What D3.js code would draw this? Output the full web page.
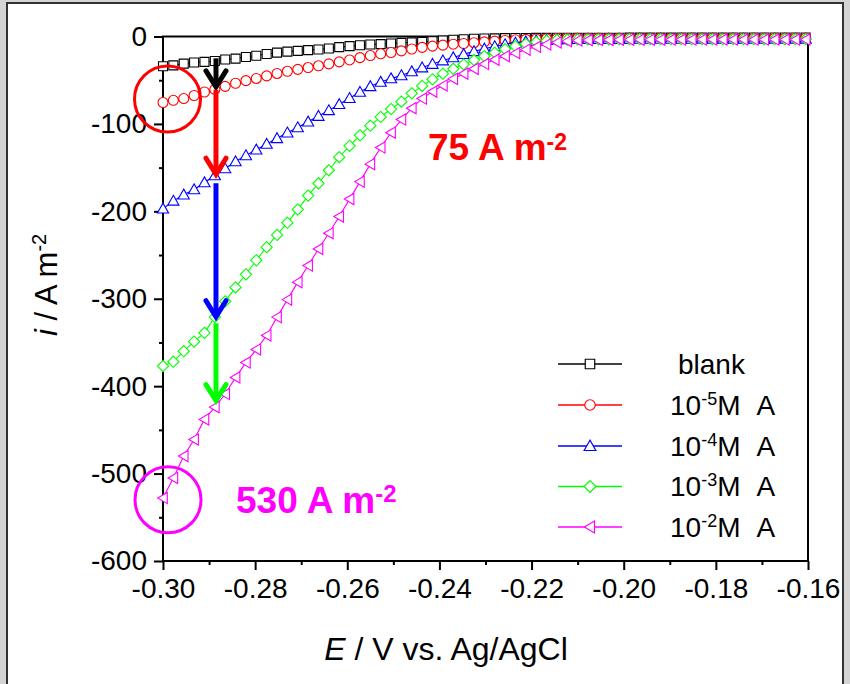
<!DOCTYPE html>
<html><head><meta charset="utf-8">
<script src="https://cdn.jsdelivr.net/npm/d3@7"></script>
<style>html,body{margin:0;padding:0;background:#d4d4d4;}svg{display:block;}</style>
</head><body>
<script>
// Potential (V vs Ag/AgCl)
const E = [-0.3,-0.29775,-0.2955,-0.29325,-0.291,-0.28875,-0.2865,-0.28425,-0.282,-0.27975,-0.2775,-0.27525,-0.273,-0.27075,-0.2685,-0.26625,-0.264,-0.26175,-0.2595,-0.25725,-0.255,-0.25275,-0.2505,-0.24825,-0.246,-0.24375,-0.2415,-0.23925,-0.237,-0.23475,-0.2325,-0.23025,-0.228,-0.22575,-0.2235,-0.22125,-0.219,-0.21675,-0.2145,-0.21225,-0.21,-0.20775,-0.2055,-0.20325,-0.201,-0.19875,-0.1965,-0.19425,-0.192,-0.18975,-0.1875,-0.18525,-0.183,-0.18075,-0.1785,-0.17625,-0.174,-0.17175,-0.1695,-0.16725,-0.165,-0.16275,-0.1605];
// Current density (A m^-2)
const blank = [-34,-33,-31,-29.7,-29,-28,-26.3,-25.3,-23.5,-22,-20,-18.5,-17.3,-16.4,-15.6,-14.8,-13.8,-12.2,-11,-10,-9.2,-8.7,-8,-7.3,-6.7,-6.1,-5.4,-4.5,-3.7,-3.1,-2.6,-2.3,-2.1,-1.9,-1.8,-1.7,-1.6,-1.6,-1.5,-1.5,-1.5,-1.4,-1.4,-1.4,-1.4,-1.3,-1.3,-1.3,-1.3,-1.3,-1.2,-1.2,-1.2,-1.2,-1.2,-1.2,-1.1,-1.1,-1.1,-1.1,-1.1,-1.1,-1.1];
const a1e5 = [-75.5,-73,-71,-67.5,-63.5,-60.5,-57,-53.5,-50.5,-48,-45,-42.3,-39.8,-37.6,-35.5,-33.5,-31.3,-29,-26.8,-24.2,-21.8,-19.8,-18.3,-16.5,-14.3,-12.4,-11,-9.9,-8.8,-8,-7.1,-6.2,-5.3,-4.5,-3.8,-3.3,-2.9,-2.6,-2.4,-2.3,-2.2,-2.2,-2.1,-2.1,-2.1,-2,-2,-2,-2,-2,-2,-2,-2,-2,-2,-2,-2,-2,-2,-2,-2,-2,-2];
const a1e4 = [-197,-188,-181,-175,-167,-159,-151,-143,-136,-129.5,-123,-116.5,-110,-104,-97.5,-91,-84.5,-77.5,-70.5,-63.5,-57,-52,-48,-44.5,-40,-35.5,-31.5,-27.5,-24,-20.3,-17,-14,-11.3,-9,-7.2,-5.8,-4.8,-4.1,-3.6,-3.3,-3.1,-3,-3,-2.9,-2.9,-2.9,-2.8,-2.8,-2.8,-2.8,-2.8,-2.8,-2.7,-2.7,-2.7,-2.7,-2.7,-2.7,-2.7,-2.7,-2.7,-2.7,-2.7];
const a1e3 = [-377,-372,-360,-349,-339,-321,-303,-287,-272,-256,-241,-227,-213,-198,-182,-168,-153,-138,-125,-113,-102,-92,-83,-74.5,-65,-56.5,-49,-42.5,-37,-32,-27,-22.5,-18.5,-14.5,-11.2,-8.5,-6.3,-4.8,-4,-3.6,-3.4,-3.3,-3.2,-3.2,-3.1,-3.1,-3.1,-3,-3,-3,-3,-3,-3,-3,-3,-3,-3,-3,-3,-3,-3,-3,-3];
const a1e2 = [-528,-505,-480,-461,-438,-424,-409,-390,-373,-358,-342,-321,-301,-281,-262,-243,-225,-206,-186,-166,-146,-127,-110,-95,-82,-71,-63,-56,-48.5,-42.5,-37,-31.5,-26.5,-22.5,-19,-15,-11.8,-9,-6.8,-5.3,-4.5,-4.1,-3.9,-3.8,-3.7,-3.7,-3.6,-3.6,-3.6,-3.5,-3.5,-3.5,-3.5,-3.5,-3.5,-3.5,-3.5,-3.5,-3.5,-3.5,-3.5,-3.5,-3.5];

const seriesLabels = ["blank", "-5", "-4", "-3", "-2"];
const seriesColors = ["#000000", "#ff0000", "#0000ff", "#00ff00", "#ff00ff"];
const seriesShapes = ["square", "circle", "triangleUp", "diamond", "triangleLeft"];
const seriesData = [blank, a1e5, a1e4, a1e3, a1e2];

const xMajor = [-0.30,-0.28,-0.26,-0.24,-0.22,-0.20,-0.18,-0.16];
const xMinor = [-0.29,-0.27,-0.25,-0.23,-0.21,-0.19,-0.17];
const yMajor = [0,-100,-200,-300,-400,-500,-600];
const yMinor = [-50,-150,-250,-350,-450,-550];

// annotation arrows (E position, from, to)
const arrowE = -0.2885;
const arrows = [
  {from:-25, to:-61, color:"#000000"},
  {from:-61, to:-161, color:"#ff0000"},
  {from:-168, to:-324, color:"#0000ff"},
  {from:-328, to:-420, color:"#00ff00"}
];

const W = 850, H = 684;
const L = 163, R = 808, T = 36.5, B = 561;
const x = d3.scaleLinear().domain([-0.30, -0.16]).range([L, R]);
const y = d3.scaleLinear().domain([0, -600]).range([T, B]);
const font = "'Liberation Sans', Arial, Helvetica, sans-serif";

const svg = d3.select("body").append("svg").attr("width", W).attr("height", H)
  .style("font-family", font);

svg.append("rect").attr("x", 0).attr("y", 0).attr("width", W).attr("height", H).attr("fill", "#d4d4d4");
svg.append("rect").attr("x", 7).attr("y", 3).attr("width", 836).attr("height", 700)
  .attr("fill", "#ffffff").attr("stroke", "#333333").attr("stroke-width", 2);

function markerPath(shape) {
  switch (shape) {
    case "square": return "M-4.5,-4.5H4.5V4.5H-4.5Z";
    case "circle": return "M5,0A5,5 0 1,1 -5,0A5,5 0 1,1 5,0Z";
    case "triangleUp": return "M0,-5.6L5.6,4.3L-5.6,4.3Z";
    case "diamond": return "M0,-5.6L5.6,0L0,5.6L-5.6,0Z";
    case "triangleLeft": return "M-5.3,0L4.3,-5.6L4.3,5.6Z";
  }
}

// axes
const gx = svg.append("g").attr("transform", `translate(0,${B})`);
gx.call(d3.axisBottom(x).tickValues(xMajor).tickSize(9).tickPadding(8).tickFormat(d => d.toFixed(2)));
const gxm = svg.append("g").attr("transform", `translate(0,${B})`);
gxm.call(d3.axisBottom(x).tickValues(xMinor).tickSize(4).tickFormat(""));
const gy = svg.append("g").attr("transform", `translate(${L},0)`);
gy.call(d3.axisLeft(y).tickValues(yMajor).tickSize(9).tickPadding(7).tickFormat(d => String(d)));
const gym = svg.append("g").attr("transform", `translate(${L},0)`);
gym.call(d3.axisLeft(y).tickValues(yMinor).tickSize(4).tickFormat(""));
[gx, gxm, gy, gym].forEach(g => {
  g.select(".domain").remove();
  g.selectAll(".tick line").attr("stroke", "#000").attr("stroke-width", 2);
  g.selectAll(".tick text").attr("fill", "#000").style("font-size", "28px").style("font-family", font);
});

svg.append("rect").attr("x", L).attr("y", T).attr("width", R - L).attr("height", B - T)
  .attr("fill", "none").attr("stroke", "#000").attr("stroke-width", 2);

// series
const line = d3.line().x((d, i) => x(E[i])).y(d => y(d));
seriesData.forEach((vals, s) => {
  const g = svg.append("g");
  g.append("path").datum(vals).attr("d", line).attr("fill", "none")
    .attr("stroke", seriesColors[s]).attr("stroke-width", 1.1);
  g.selectAll("path.m").data(vals).enter().append("path").attr("class", "m")
    .attr("d", markerPath(seriesShapes[s]))
    .attr("transform", (d, i) => `translate(${x(E[i])},${y(d)})`)
    .attr("fill", "#ffffff").attr("stroke", seriesColors[s]).attr("stroke-width", 1.1);
});

// arrows
arrows.forEach(a => {
  const ax = x(arrowE), y0 = y(a.from), y1 = y(a.to);
  svg.append("line").attr("x1", ax).attr("x2", ax).attr("y1", y0).attr("y2", y1 - 3)
    .attr("stroke", a.color).attr("stroke-width", 5);
  svg.append("path").attr("d", `M${ax - 10},${y1 - 19}L${ax},${y1 - 3}L${ax + 10},${y1 - 19}`)
    .attr("fill", "none").attr("stroke", a.color).attr("stroke-width", 5)
    .attr("stroke-linecap", "round").attr("stroke-linejoin", "miter");
});

// circles
svg.append("circle").attr("cx", x(-0.29902)).attr("cy", y(-71.5)).attr("r", 33)
  .attr("fill", "none").attr("stroke", "#ff0000").attr("stroke-width", 3);
svg.append("circle").attr("cx", x(-0.29891)).attr("cy", y(-530)).attr("r", 33)
  .attr("fill", "none").attr("stroke", "#ff00ff").attr("stroke-width", 3);

// annotation texts
const t1 = svg.append("text").attr("x", x(-0.24248)).attr("y", y(-141.3))
  .attr("fill", "#ff0000").style("font-weight", "bold").style("font-size", "37px");
t1.append("tspan").text("75 A m");
t1.append("tspan").attr("dy", -10).style("font-size", "23px").text("-2");
const t2 = svg.append("text").attr("x", x(-0.28415)).attr("y", y(-545))
  .attr("fill", "#ff00ff").style("font-weight", "bold").style("font-size", "37px");
t2.append("tspan").text("530 A m");
t2.append("tspan").attr("dy", -11).style("font-size", "24px").text("-2");

// legend
const legY = [364, 405, 446, 486.5, 527];
seriesLabels.forEach((lab, s) => {
  const ly = legY[s];
  svg.append("line").attr("x1", 558).attr("x2", 622).attr("y1", ly).attr("y2", ly)
    .attr("stroke", seriesColors[s]).attr("stroke-width", 1.6);
  svg.append("path").attr("d", markerPath(seriesShapes[s])).attr("transform", `translate(590,${ly}) scale(1.05)`)
    .attr("fill", "#fff").attr("stroke", seriesColors[s]).attr("stroke-width", 1.1);
  if (s === 0) {
    svg.append("text").attr("x", 678).attr("y", ly + 9.5).style("font-size", "28px").text(lab);
  } else {
    const t = svg.append("text").attr("x", 670).attr("y", ly + 9.5).style("font-size", "28px");
    t.append("tspan").text("10");
    t.append("tspan").attr("dy", -10).style("font-size", "18px").text(lab);
    t.append("tspan").attr("dy", 10).text("M");
    t.append("tspan").attr("dx", 16).text("A");
  }
});

// axis titles
const xt = svg.append("text").attr("x", 446).attr("y", 660).attr("text-anchor", "middle").style("font-size", "32px");
xt.append("tspan").style("font-style", "italic").text("E");
xt.append("tspan").text(" / V vs. Ag/AgCl");
const yt = svg.append("text").attr("transform", "translate(57,336) rotate(-90)").style("font-size", "31px");
yt.append("tspan").style("font-style", "italic").text("i");
yt.append("tspan").text(" / A m");
yt.append("tspan").attr("dy", -11).style("font-size", "20px").text("-2");
</script>
</body></html>
